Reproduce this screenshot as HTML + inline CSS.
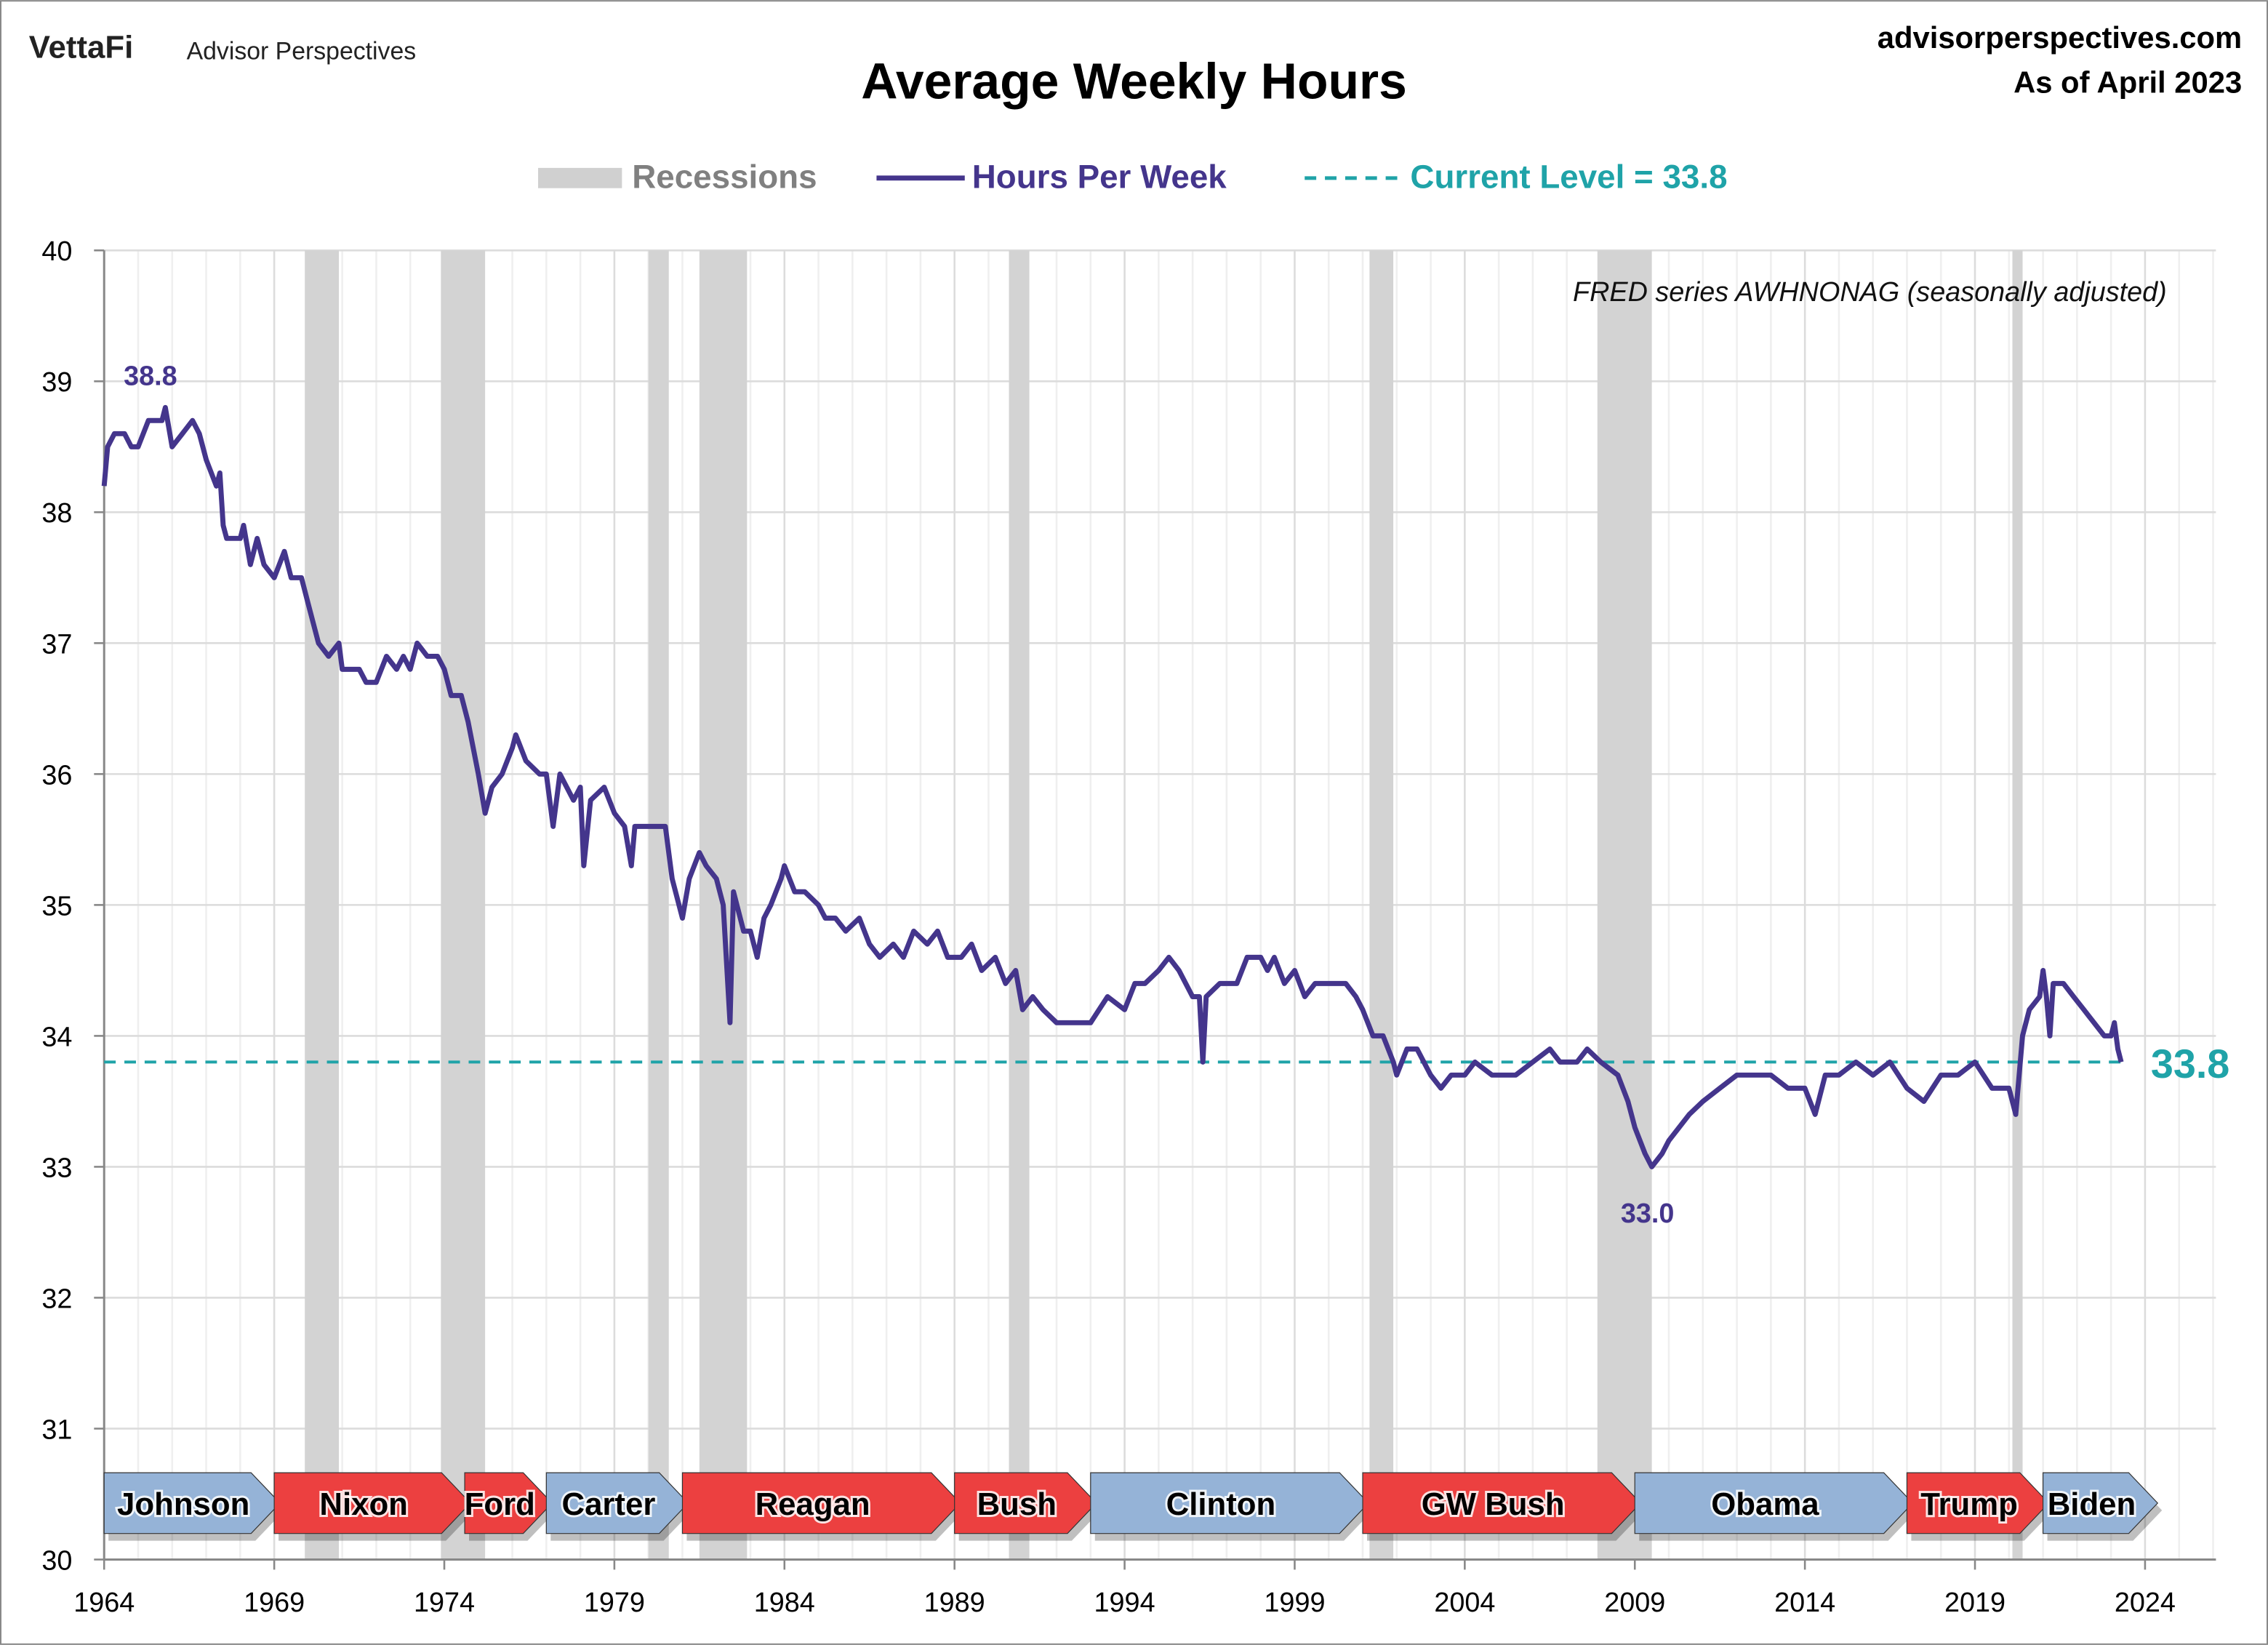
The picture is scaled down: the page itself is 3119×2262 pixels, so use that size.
<!DOCTYPE html>
<html><head><meta charset="utf-8"><style>
html,body{margin:0;padding:0;background:#fff}
svg{display:block;font-family:"Liberation Sans",sans-serif}
.pl{font-family:"Liberation Sans Narrow","Liberation Sans",sans-serif;paint-order:stroke;stroke:#fff;stroke-width:3px;stroke-opacity:0.85}
</style></head><body>
<svg id="chart" width="3119" height="2262" viewBox="0 0 1568 1137" xmlns="http://www.w3.org/2000/svg">
<rect x="0.5" y="0.5" width="1567" height="1136" fill="#fff" stroke="#888"/>
<text x="20" y="40" font-size="22" font-weight="bold" fill="#222">VettaFi</text>
<text x="129" y="41" font-size="17" fill="#222">Advisor Perspectives</text>
<text x="784" y="68" font-size="35" font-weight="bold" text-anchor="middle" fill="#000">Average Weekly Hours</text>
<text x="1550" y="33" font-size="21" font-weight="bold" text-anchor="end" fill="#000">advisorperspectives.com</text>
<text x="1550" y="64" font-size="21" font-weight="bold" text-anchor="end" fill="#000">As of April 2023</text>
<g>
<rect x="372" y="116" width="58" height="14" fill="#d0d0d0"/>
<text x="437" y="130" font-size="23" font-weight="bold" fill="#808080">Recessions</text>
<line x1="606" y1="123" x2="667" y2="123" stroke="#44358c" stroke-width="3.5"/>
<text x="672" y="130" font-size="23" font-weight="bold" fill="#44358c">Hours Per Week</text>
<line x1="902" y1="123" x2="966" y2="123" stroke="#1fa3a8" stroke-width="2.5" stroke-dasharray="8,6"/>
<text x="975" y="130" font-size="23" font-weight="bold" fill="#1fa3a8">Current Level = 33.8</text>
</g>
<g id="grid"></g><g id="rec"></g><g id="axes"></g><g id="pres"></g><g id="series"></g>
<text x="1498" y="208" font-size="19" font-style="italic" text-anchor="end" fill="#111">FRED series AWHNONAG (seasonally adjusted)</text>
<text x="104" y="266" font-size="19" font-weight="bold" text-anchor="middle" fill="#44358c">38.8</text>
<text x="1139" y="845" font-size="19" font-weight="bold" text-anchor="middle" fill="#44358c">33.0</text>
<text x="1487" y="745" font-size="28" font-weight="bold" fill="#1fa3a8">33.8</text>
</svg>
<script>
const yearsData=[1964.0,1964.1,1964.3,1964.6,1964.8,1965.0,1965.3,1965.7,1965.8,1966.0,1966.3,1966.6,1966.8,1967.0,1967.3,1967.4,1967.5,1967.6,1968.0,1968.1,1968.3,1968.5,1968.7,1969.0,1969.3,1969.5,1969.8,1970.0,1970.3,1970.6,1970.9,1971.0,1971.5,1971.7,1972.0,1972.3,1972.6,1972.8,1973.0,1973.2,1973.5,1973.8,1974.0,1974.2,1974.5,1974.7,1975.0,1975.2,1975.4,1975.7,1976.0,1976.1,1976.4,1976.8,1977.0,1977.2,1977.4,1977.8,1978.0,1978.1,1978.3,1978.7,1979.0,1979.3,1979.5,1979.6,1980.5,1980.7,1981.0,1981.2,1981.5,1981.7,1982.0,1982.2,1982.4,1982.5,1982.8,1983.0,1983.2,1983.4,1983.6,1983.9,1984.0,1984.3,1984.6,1985.0,1985.2,1985.5,1985.8,1986.2,1986.5,1986.8,1987.2,1987.5,1987.8,1988.2,1988.5,1988.8,1989.2,1989.5,1989.8,1990.2,1990.5,1990.8,1991.0,1991.3,1991.6,1992.0,1992.3,1993.0,1993.5,1994.0,1994.3,1994.6,1995.0,1995.3,1995.6,1996.0,1996.2,1996.3,1996.4,1996.8,1997.3,1997.6,1998.0,1998.2,1998.4,1998.7,1999.0,1999.3,1999.6,2000.0,2000.5,2000.8,2001.0,2001.3,2001.6,2001.9,2002.0,2002.3,2002.6,2003.0,2003.3,2003.6,2004.0,2004.3,2004.8,2005.0,2005.5,2006.0,2006.5,2006.8,2007.3,2007.6,2008.0,2008.5,2008.8,2009.0,2009.3,2009.5,2009.8,2010.0,2010.3,2010.6,2011.0,2011.5,2012.0,2012.5,2013.0,2013.5,2014.0,2014.3,2014.6,2015.0,2015.5,2016.0,2016.5,2017.0,2017.5,2018.0,2018.5,2019.0,2019.5,2020.0,2020.2,2020.4,2020.6,2020.9,2021.0,2021.1,2021.2,2021.3,2021.6,2021.9,2022.2,2022.5,2022.8,2023.0,2023.1,2023.2,2023.3];
const hoursData=[38.2,38.5,38.6,38.6,38.5,38.5,38.7,38.7,38.8,38.5,38.6,38.7,38.6,38.4,38.2,38.3,37.9,37.8,37.8,37.9,37.6,37.8,37.6,37.5,37.7,37.5,37.5,37.3,37.0,36.9,37.0,36.8,36.8,36.7,36.7,36.9,36.8,36.9,36.8,37.0,36.9,36.9,36.8,36.6,36.6,36.4,36.0,35.7,35.9,36.0,36.2,36.3,36.1,36.0,36.0,35.6,36.0,35.8,35.9,35.3,35.8,35.9,35.7,35.6,35.3,35.6,35.6,35.2,34.9,35.2,35.4,35.3,35.2,35.0,34.1,35.1,34.8,34.8,34.6,34.9,35.0,35.2,35.3,35.1,35.1,35.0,34.9,34.9,34.8,34.9,34.7,34.6,34.7,34.6,34.8,34.7,34.8,34.6,34.6,34.7,34.5,34.6,34.4,34.5,34.2,34.3,34.2,34.1,34.1,34.1,34.3,34.2,34.4,34.4,34.5,34.6,34.5,34.3,34.3,33.8,34.3,34.4,34.4,34.6,34.6,34.5,34.6,34.4,34.5,34.3,34.4,34.4,34.4,34.3,34.2,34.0,34.0,33.8,33.7,33.9,33.9,33.7,33.6,33.7,33.7,33.8,33.7,33.7,33.7,33.8,33.9,33.8,33.8,33.9,33.8,33.7,33.5,33.3,33.1,33.0,33.1,33.2,33.3,33.4,33.5,33.6,33.7,33.7,33.7,33.6,33.6,33.4,33.7,33.7,33.8,33.7,33.8,33.6,33.5,33.7,33.7,33.8,33.6,33.6,33.4,34.0,34.2,34.3,34.5,34.3,34.0,34.4,34.4,34.3,34.2,34.1,34.0,34.0,34.1,33.9,33.8];
const recStarts=[1969.9,1973.9,1980.0,1981.5,1990.6,2001.2,2007.9,2020.1];
const recEnds=[1970.9,1975.2,1980.6,1982.9,1991.2,2001.9,2009.5,2020.4];
const presNames=["Johnson","Nixon","Ford","Carter","Reagan","Bush","Clinton","GW Bush","Obama","Trump","Biden"];
const presStarts=[1964.0,1969.0,1974.6,1977.0,1981.0,1989.0,1993.0,2001.0,2009.0,2017.0,2021.0];
const presEnds=[1969.0,1974.6,1977.0,1981.0,1989.0,1993.0,2001.0,2009.0,2017.0,2021.0,2024.2];
const presParty=["D","R","R","D","R","R","D","R","D","R","D"];
const yTicks=[30,31,32,33,34,35,36,37,38,39,40];
const xTicks=[1964,1969,1974,1979,1984,1989,1994,1999,2004,2009,2014,2019,2024];
const currentLevel=33.8;

const NS="http://www.w3.org/2000/svg";
const X0=72,X1=1483,Y0=1078,Y1=173;
const xs=y=>X0+(y-1964)/60*(X1-X0);
const ys=v=>Y0-(v-30)/10*(Y0-Y1);
function mk(tag,attrs,parent){const e=document.createElementNS(NS,tag);for(const k in attrs)e.setAttribute(k,attrs[k]);parent.appendChild(e);return e;}
const grid=document.getElementById('grid'),rec=document.getElementById('rec'),axes=document.getElementById('axes'),pres=document.getElementById('pres'),series=document.getElementById('series');
for(let yr=1965;yr<=2026;yr++){const x=xs(yr);if(x>1532)break;
 const l=mk('line',{x1:x,x2:x,y1:Y1,y2:Y0,stroke:(yr-1964)%5===0?'#dcdcdc':'#efefef','stroke-width':1.3},grid);
 
 }
yTicks.forEach(v=>{const l=mk('line',{x1:X0,x2:1532,y1:ys(v),y2:ys(v),stroke:'#dcdcdc','stroke-width':1.3},grid);
 
 
 const tk=mk('line',{x1:X0-7,x2:X0,y1:ys(v),y2:ys(v),stroke:'#888','stroke-width':1.3},axes);
 
 
 const t=mk('text',{x:50,y:ys(v)+7,'font-size':19,'text-anchor':'end',fill:'#000'},axes);t.textContent=v;
 
 });
recStarts.forEach((s,i)=>{const r=mk('rect',{x:xs(s),y:Y1,width:xs(recEnds[i])-xs(s),height:Y0-Y1,fill:'#d3d3d3'},rec);
 
 });
const ax=mk('line',{x1:X0,x2:X0,y1:Y1,y2:Y0,stroke:'#888','stroke-width':1.5},axes);


const bx=mk('line',{x1:X0,x2:1532,y1:Y0,y2:Y0,stroke:'#888','stroke-width':1.5},axes);


xTicks.forEach(yr=>{const tk=mk('line',{x1:xs(yr),x2:xs(yr),y1:Y0,y2:Y0+7,stroke:'#888','stroke-width':1.3},axes);
 
 
 const t=mk('text',{x:xs(yr),y:Y0+36,'font-size':19,'text-anchor':'middle',fill:'#000'},axes);t.textContent=yr;
 
 });
presNames.forEach((n,i)=>{const a=xs(presStarts[i]),b=xs(presEnds[i]),top=1018,bot=1060,mid=1039,tip=20;
 const sh=mk('polygon',{points:`${a+3},${top+5} ${b-tip+7},${top+5} ${b+7},${mid+5} ${b-tip+7},${bot+5} ${a+3},${bot+5}`,fill:'#000',opacity:0.25},pres);
 
 
 const p=mk('polygon',{points:`${a},${top} ${b-tip+4},${top} ${b+4},${mid} ${b-tip+4},${bot} ${a},${bot}`,fill:presParty[i]==='D'?'#95b3d7':'#ec4040',stroke:'#333','stroke-width':0.6},pres);
 
 
 const t=mk('text',{x:(a+b)/2-4,y:mid+8,'font-size':22,'font-weight':'bold','text-anchor':'middle',fill:'#000','class':'pl'},pres);t.textContent=n;
 
 });
const cl=mk('line',{x1:X0,x2:1470,y1:ys(currentLevel),y2:ys(currentLevel),stroke:'#1fa3a8','stroke-width':2,'stroke-dasharray':'8,6'},series);


let d='';yearsData.forEach((y,i)=>{d+=(i?'L':'M')+xs(y).toFixed(1)+','+ys(hoursData[i]).toFixed(1);});
const pl=mk('path',{d:d,fill:'none',stroke:'#44358c','stroke-width':3.5,'stroke-linejoin':'round'},series);


</script>
</body></html>
